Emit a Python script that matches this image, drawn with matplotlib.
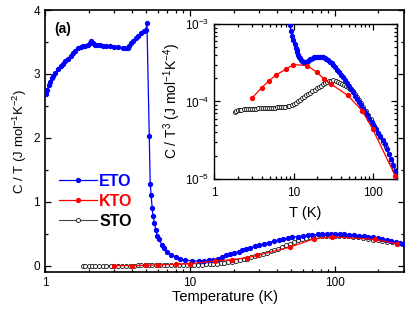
import matplotlib
matplotlib.use('Agg')
import matplotlib.pyplot as plt
from matplotlib.ticker import LogLocator, FixedLocator, FuncFormatter, NullFormatter, MultipleLocator

plt.rcParams['font.family'] = ['Liberation Sans', 'DejaVu Sans']
plt.rcParams['mathtext.default'] = 'regular'

# --- main panel: C/T vs T ---
eto_T = [1.02, 1.04, 1.06, 1.08, 1.11, 1.14, 1.18, 1.23, 1.28, 1.33, 1.38, 1.44, 1.50, 1.56,
         1.62, 1.69, 1.76, 1.83, 1.90, 1.98, 2.04, 2.09, 2.14, 2.20, 2.28, 2.38, 2.50, 2.64,
         2.80, 3.00, 3.20, 3.44, 3.60, 3.72, 3.82, 3.92, 4.05, 4.24, 4.40, 4.59, 4.83, 4.95,
         5.05, 5.24, 5.32, 5.40, 5.49, 5.57, 5.69, 5.81, 5.97, 6.13, 6.39, 6.63, 6.99, 7.38,
         7.98, 8.6, 9.3, 10.3, 11.5, 12.5, 13.5, 14.5, 15.5, 16.6, 17.8, 19.0, 20.3, 21.7,
         23.0, 24.5, 26.0, 28.0, 30.0, 32.5, 35.0, 38.0, 41.0, 44.0, 47.5, 51.0, 55.6, 60.0,
         65.0, 70.0, 76.0, 82.0, 88.0, 94.0, 100, 108, 116, 125, 135, 146, 158, 170, 183,
         197, 212, 228, 245, 263, 282, 300]
eto_CT = [2.68, 2.75, 2.82, 2.88, 2.93, 2.97, 3.02, 3.07, 3.12, 3.16, 3.20, 3.24, 3.28, 3.32,
          3.36, 3.40, 3.42, 3.43, 3.44, 3.46, 3.49, 3.52, 3.48, 3.45, 3.46, 3.46, 3.44, 3.43,
          3.43, 3.42, 3.42, 3.41, 3.40, 3.40, 3.44, 3.48, 3.52, 3.56, 3.60, 3.64, 3.67, 3.68,
          3.79, 2.03, 1.28, 1.10, 0.90, 0.77, 0.67, 0.55, 0.46, 0.41, 0.33, 0.28, 0.22, 0.17,
          0.14, 0.10, 0.085, 0.075, 0.07, 0.07, 0.08, 0.09, 0.11, 0.135, 0.16, 0.18, 0.20, 0.22,
          0.24, 0.255, 0.275, 0.30, 0.32, 0.34, 0.36, 0.38, 0.40, 0.415, 0.43, 0.445, 0.455, 0.465,
          0.475, 0.48, 0.487, 0.49, 0.493, 0.495, 0.495, 0.493, 0.49, 0.485, 0.478, 0.47, 0.46,
          0.45, 0.44, 0.428, 0.415, 0.40, 0.385, 0.37, 0.355, 0.345]

kto_T = [3.0, 4.0, 5.0, 6.0, 8.0, 10.0, 14.8, 19.5, 24.6, 29.2, 49, 72, 96, 190, 270]
kto_CT = [0.0, 0.0, 0.005, 0.01, 0.02, 0.03, 0.07, 0.095, 0.12, 0.16, 0.29, 0.42, 0.45, 0.41, 0.34]

sto_T = [1.84, 1.9, 2.0, 2.1, 2.2, 2.35, 2.5, 2.65, 2.84, 3.0, 3.2, 3.4, 3.6, 3.85, 4.1, 4.35,
         4.6, 4.9, 5.2, 5.5, 5.85, 6.2, 6.6, 7.0, 7.45, 7.9, 8.4, 8.9, 9.5, 10.1, 10.7, 11.4,
         12.1, 12.9, 13.7, 14.5, 15.3, 16.3, 17.3, 18.4, 19.6, 20.8, 22.1, 23.5, 24.9, 26.5,
         28.2, 30, 31.8, 33.8, 36, 38.3, 40.7, 43.3, 46, 48.8, 52, 55.5, 59, 63, 67, 71, 75.6,
         81, 87, 93, 100, 107, 115, 124, 134, 145, 157, 170, 184, 198, 213, 230, 248, 268, 290]
sto_CT = [0.0, 0.0, 0.0, 0.0, 0.0, 0.0, 0.001, 0.001, 0.001, 0.001, 0.001, 0.001, 0.001, 0.001,
          0.001, 0.002, 0.002, 0.002, 0.002, 0.003, 0.003, 0.003, 0.004, 0.004, 0.005, 0.005,
          0.006, 0.007, 0.008, 0.009, 0.011, 0.013, 0.015, 0.018, 0.022, 0.026, 0.031, 0.037,
          0.044, 0.052, 0.061, 0.071, 0.083, 0.097, 0.111, 0.127, 0.145, 0.163, 0.182, 0.201,
          0.222, 0.243, 0.266, 0.29, 0.315, 0.34, 0.37, 0.395, 0.415, 0.432, 0.445, 0.452, 0.457,
          0.461, 0.464, 0.466, 0.467, 0.467, 0.465, 0.46, 0.452, 0.443, 0.432, 0.42, 0.408,
          0.398, 0.388, 0.376, 0.364, 0.352, 0.342]

# --- inset: C/T^3 vs T ---
eto_in_T = [8.7, 9.0, 9.3, 9.6, 9.9, 10.3, 10.6, 10.9, 11.2, 11.5, 11.8, 12.1, 12.5, 12.9, 13.3,
            13.7, 14.1, 14.6, 15.1, 15.6, 16.2, 16.8, 17.5, 18.2, 19.0, 19.8, 20.7, 21.6, 22.6,
            23.6, 24.7, 25.9, 27.2, 28.6, 30.1, 31.7, 33.4, 35.2, 37.2, 39.3, 41.6, 44.0, 46.6,
            49.4, 52.4, 55.6, 59.0, 62.7, 66.6, 70.8, 75.3, 80, 85, 90, 96, 102, 109, 116, 124,
            132, 141, 150, 160, 170, 180, 190, 198]
eto_in_C = [1.15e-3, 9.6e-4, 8.2e-4, 7.1e-4, 6.3e-4, 5.5e-4, 4.95e-4, 4.6e-4, 4.3e-4, 4.0e-4,
            3.8e-4, 3.62e-4, 3.45e-4, 3.33e-4, 3.26e-4, 3.23e-4, 3.24e-4, 3.28e-4, 3.35e-4,
            3.42e-4, 3.5e-4, 3.58e-4, 3.65e-4, 3.7e-4, 3.75e-4, 3.78e-4, 3.8e-4, 3.8e-4, 3.78e-4,
            3.73e-4, 3.65e-4, 3.55e-4, 3.42e-4, 3.27e-4, 3.1e-4, 2.93e-4, 2.75e-4, 2.57e-4,
            2.4e-4, 2.22e-4, 2.05e-4, 1.88e-4, 1.72e-4, 1.58e-4, 1.44e-4, 1.31e-4, 1.19e-4,
            1.08e-4, 9.8e-5, 8.9e-5, 8.1e-5, 7.3e-5, 6.6e-5, 6.0e-5, 5.4e-5, 4.9e-5, 4.4e-5,
            3.95e-5, 3.55e-5, 3.2e-5, 2.8e-5, 2.45e-5, 2.1e-5, 1.8e-5, 1.5e-5, 1.25e-5, 1.05e-5]

kto_in_T = [3.0, 3.98, 4.96, 6.0, 8.0, 9.9, 14.9, 19.5, 24.5, 29.6, 48, 73, 99, 190]
kto_in_C = [1.10e-4, 1.51e-4, 1.86e-4, 2.2e-4, 2.6e-4, 3.0e-4, 2.9e-4, 2.4e-4, 1.93e-4,
            1.68e-4, 1.2e-4, 7.6e-5, 4.4e-5, 1.1e-5]

sto_in_T = sto_T[:76]
sto_in_C = [7.4e-5, 7.6e-5, 7.7e-5, 7.8e-5, 7.85e-5, 7.9e-5, 7.95e-5, 8.0e-5, 8.0e-5, 8.05e-5,
            8.1e-5, 8.1e-5, 8.15e-5, 8.15e-5, 8.2e-5, 8.2e-5, 8.2e-5, 8.25e-5, 8.3e-5, 8.3e-5,
            8.35e-5, 8.4e-5, 8.4e-5, 8.45e-5, 8.5e-5, 8.6e-5, 8.7e-5, 8.85e-5, 9.0e-5, 9.3e-5,
            9.6e-5, 1.0e-4, 1.05e-4, 1.1e-4, 1.15e-4, 1.2e-4, 1.24e-4, 1.3e-4, 1.36e-4, 1.42e-4,
            1.48e-4, 1.54e-4, 1.6e-4, 1.66e-4, 1.71e-4, 1.77e-4, 1.83e-4, 1.86e-4, 1.87e-4,
            1.85e-4, 1.8e-4, 1.75e-4, 1.70e-4, 1.64e-4, 1.57e-4, 1.52e-4, 1.44e-4, 1.35e-4,
            1.26e-4, 1.15e-4, 1.05e-4, 9.5e-5, 8.6e-5, 7.6e-5, 6.7e-5, 5.9e-5, 5.1e-5, 4.5e-5,
            3.95e-5, 3.45e-5, 3.0e-5, 2.55e-5, 2.1e-5, 1.7e-5, 1.35e-5, 1.05e-5]

BLUE = '#0000ff'
RED = '#ff0000'


def style_axis(ax, lw=1.2):
    for s in ax.spines.values():
        s.set_linewidth(lw)
    ax.tick_params(which='both', direction='in', top=True, right=True, width=0.9)
    ax.tick_params(which='major', length=4.5)
    ax.tick_params(which='minor', length=2.5)


def draw_series(a, T, y, color, **kw):
    a.plot(T, y, color=color, lw=0.9, marker='o', ms=2.8, mec=color, mfc=color, **kw)


fig = plt.figure(figsize=(4.07, 3.10), dpi=100)
ax = fig.add_axes([0.1106, 0.1226, 0.882, 0.845])

ax.plot(sto_T, sto_CT, color='#444444', lw=0.8, marker='o', ms=2.9, mfc='white',
        mec='black', mew=0.55, label='STO', zorder=2)
draw_series(ax, eto_T, eto_CT, BLUE, label='ETO', zorder=3)
draw_series(ax, kto_T, kto_CT, RED, label='KTO', zorder=4)

ax.set_xscale('log')
ax.set_xlim(1, 300)
ax.set_ylim(-0.1, 4)
ax.xaxis.set_major_locator(FixedLocator([1, 10, 100]))
ax.xaxis.set_major_formatter(FuncFormatter(lambda v, p: '%g' % v))
ax.xaxis.set_minor_locator(LogLocator(base=10, subs=range(2, 10), numticks=20))
ax.xaxis.set_minor_formatter(NullFormatter())
ax.yaxis.set_major_locator(MultipleLocator(1))
ax.yaxis.set_minor_locator(MultipleLocator(0.5))
ax.tick_params(labelsize=8.5)
style_axis(ax)
ax.set_xlabel('Temperature (K)', fontsize=10.5, labelpad=1)
ax.set_ylabel('C / T (J mol$^{-1}$K$^{-2}$)', fontsize=9.5, labelpad=3)
ax.text(0.025, 0.955, '(a)', transform=ax.transAxes, fontsize=10, fontweight='bold',
        va='top', ha='left')

handles, labels = ax.get_legend_handles_labels()
order = [1, 2, 0]
leg = ax.legend([handles[i] for i in order], [labels[i] for i in order],
                loc='upper left', bbox_to_anchor=(0.02, 0.40), frameon=False,
                handlelength=2.4, handletextpad=0.15, labelspacing=0.32,
                prop={'weight': 'bold', 'size': 11.5}, borderaxespad=0)
for txt, col in zip(leg.get_texts(), [BLUE, RED, 'black']):
    txt.set_color(col)

# inset
axi = fig.add_axes([0.5258, 0.4226, 0.4496, 0.5])
axi.plot(sto_in_T, sto_in_C, color='#444444', lw=0.8, marker='o', ms=2.9, mfc='white',
         mec='black', mew=0.55, zorder=2)
draw_series(axi, eto_in_T, eto_in_C, BLUE, zorder=3)
draw_series(axi, kto_in_T, kto_in_C, RED, zorder=4)
axi.set_xscale('log')
axi.set_yscale('log')
axi.set_xlim(1, 200)
axi.set_ylim(1e-5, 1e-3)
axi.xaxis.set_major_locator(FixedLocator([1, 10, 100]))
axi.xaxis.set_major_formatter(FuncFormatter(lambda v, p: '%g' % v))
axi.xaxis.set_minor_locator(LogLocator(base=10, subs=range(2, 10), numticks=20))
axi.xaxis.set_minor_formatter(NullFormatter())
axi.yaxis.set_minor_locator(LogLocator(base=10, subs=range(2, 10), numticks=20))
axi.yaxis.set_minor_formatter(NullFormatter())
axi.tick_params(labelsize=8.5)
axi.tick_params(axis='x', pad=6)
style_axis(axi, lw=1.0)
axi.set_xlabel('T (K)', fontsize=10.5, labelpad=5)
axi.set_ylabel('C / T$^3$ (J mol$^{-1}$K$^{-4}$)', fontsize=10, labelpad=1)

fig.savefig('out.png', dpi=100)
